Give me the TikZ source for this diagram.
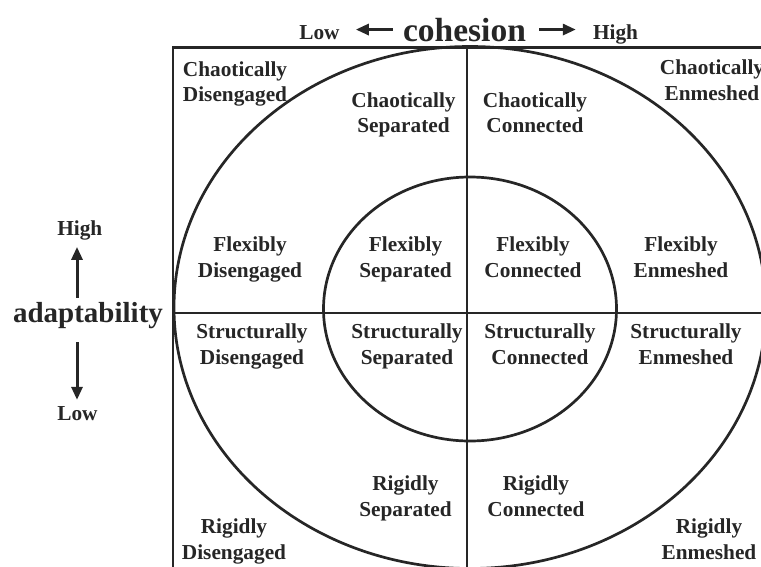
\documentclass[tikz,border=0pt]{standalone}
\usepackage{fontspec}
\setmainfont{Liberation Serif}
\usetikzlibrary{arrows.meta}
\tikzset{
  frame/.style={line width=2.8pt, black!85},
  ring/.style={line width=2.7pt, black!85},
  lab/.style={font=\fontsize{21.3}{25.5}\selectfont\bfseries, align=center, inner sep=0pt, anchor=north, text=black!85},
  axis/.style={font=\fontsize{21.3}{25}\selectfont\bfseries, inner sep=0pt, anchor=base, text=black!85},
  axarrow/.style={line width=3pt, black!85, -{Triangle[length=13pt,width=11pt]}},
}
\begin{document}
\begin{tikzpicture}[x=1pt,y=-1pt]
\useasboundingbox (0,0) rectangle (761,566);
\clip (0,0) rectangle (761,566);
% frame and cross
\coordinate (tl) at (173,47.5);
\coordinate (tr) at (770,47.5);
\coordinate (bl) at (173,575);
\coordinate (vt) at (467,47.5);
\coordinate (vb) at (467,575);
\coordinate (hl) at (173,313);
\coordinate (hr) at (770,313);
\draw[frame, line cap=rect] (bl) -- (tl) -- (tr);
\draw[frame] (vt) -- (vb);
\draw[frame] (hl) -- (hr);
% ellipses
\draw[ring] (470,307.5) ellipse [x radius=296, y radius=261];
\draw[ring] (470,309) ellipse [x radius=146.5, y radius=132];
% top axis
\node[axis, font=\fontsize{33.5}{40}\selectfont\bfseries] (cohesion) at (464.5,41) {cohesion};
\node[axis] (lowtop) at (319.5,39) {Low};
\node[axis] (hightop) at (615.5,39) {High};
\draw[axarrow, shorten <=10pt, shorten >=16pt] (cohesion.west) -- (lowtop.east |- cohesion.west);
\draw[axarrow, shorten <=13pt, shorten >=17pt] (cohesion.east) -- (hightop.west |- cohesion.east);
% left axis
\node[axis, font=\fontsize{29}{34}\selectfont\bfseries] (adapt) at (88,322) {adaptability};
\node[axis] (highleft) at (79.8,235) {High};
\node[axis] (lowleft) at (77.5,420) {Low};
\draw[axarrow, shorten <=4pt, shorten >=7pt] ([xshift=-11pt]adapt.north) -- ([xshift=-2.8pt]highleft.south);
\draw[axarrow, shorten <=14pt, shorten >=6pt] ([xshift=-11pt]adapt.south) -- ([xshift=-0.5pt]lowleft.north);
% labels
\node[lab] (cd) at (235,61.3) {Chaotically\\Disengaged};
\node[lab] (cs) at (403.5,92.3) {Chaotically\\Separated};
\node[lab] (cc) at (535,92.3) {Chaotically\\Connected};
\node[lab] (ce) at (712,59.6) {Chaotically\\Enmeshed};
\node[lab] (fd) at (250,236.6) {Flexibly\\Disengaged};
\node[lab] (fs) at (405.5,236.6) {Flexibly\\Separated};
\node[lab] (fc) at (533,236.6) {Flexibly\\Connected};
\node[lab] (fe) at (681,236.6) {Flexibly\\Enmeshed};
\node[lab] (sd) at (252,323.6) {Structurally\\Disengaged};
\node[lab] (ss) at (407,323.6) {Structurally\\Separated};
\node[lab] (sc) at (540,323.6) {Structurally\\Connected};
\node[lab] (se) at (686,323.6) {Structurally\\Enmeshed};
\node[lab] (rd) at (234,518.6) {Rigidly\\Disengaged};
\node[lab] (rs) at (405.5,475.6) {Rigidly\\Separated};
\node[lab] (rc) at (536,475.6) {Rigidly\\Connected};
\node[lab] (re) at (709,518.6) {Rigidly\\Enmeshed};
\end{tikzpicture}
\end{document}
